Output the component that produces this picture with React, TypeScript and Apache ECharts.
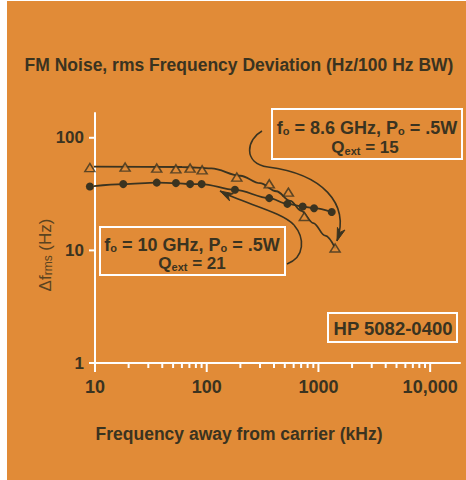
import React, { useEffect, useRef } from 'react';
import * as echarts from 'echarts';

// ---- data ----
const xMajorTicks = [10, 100, 1000, 10000];
const xMinorTicks = [20, 30, 40, 50, 60, 70, 80, 90, 200, 300, 400, 500, 600, 700, 800, 900, 2000, 3000, 4000, 5000, 6000, 7000, 8000, 9000];
const yMajorTicks = [1, 10, 100];

// f0 = 8.6 GHz (triangles)
const triFreq = [9, 18.6, 35.7, 53, 71, 91, 186, 363, 538, 748, 1410];
const triVal = [54.4, 54.9, 53.8, 53.0, 53.8, 51.9, 44.8, 39.0, 32.9, 20.0, 10.5];
// fitted curve through the triangles (as drawn)
const triFitFreq = [9, 60, 110, 200, 300, 420, 560, 700, 900, 1150, 1420];
const triFitVal = [55.5, 55, 53.5, 46, 39.5, 33.5, 27.5, 22.5, 17.5, 13.5, 10.4];

// f0 = 10 GHz (dots)
const dotFreq = [9, 17.9, 35.7, 53, 71, 90, 179, 363, 527, 723, 914, 1315];
const dotVal = [36.9, 38.8, 40.0, 39.6, 38.8, 38.8, 34.5, 29.1, 25.9, 24.5, 23.7, 21.9];

const X_MIN = 10;
const X_MAX = 18500;
const Y_MIN = 1;
const Y_MAX = 166;

const BG = '#E18B37';
const INK = '#3A3320';
const WHITE = '#FFFFFF';
const FONT = '"Liberation Sans", Arial, sans-serif';

function powLabel(v: number): string {
  const l = Math.log10(v);
  if (Math.abs(l - Math.round(l)) > 1e-3) return '';
  const n = Math.round(Math.pow(10, Math.round(l)));
  return n === 10000 ? '10,000' : String(n);
}

function arrowHead(tx: number, ty: number, fx: number, fy: number, len = 13, hw = 4) {
  const dx = tx - fx, dy = ty - fy;
  const d = Math.hypot(dx, dy);
  const ux = dx / d, uy = dy / d;
  const bx = tx - ux * len, by = ty - uy * len;
  const nx = -uy, ny = ux;
  return {
    type: 'polygon',
    shape: { points: [[tx, ty], [bx + nx * hw, by + ny * hw], [tx - ux * len * 0.7, ty - uy * len * 0.7], [bx - nx * hw, by - ny * hw]] },
    style: { fill: INK, stroke: INK, lineWidth: 1 },
    z: 50,
  };
}

function rt(text: string, x: number, y: number, size: number, subSize: number) {
  return {
    type: 'text',
    x, y,
    z: 60,
    style: {
      text,
      align: 'center', verticalAlign: 'middle',
      textAlign: 'center', textVerticalAlign: 'middle',
      fill: INK,
      fontFamily: FONT,
      fontSize: size,
      fontWeight: 'bold',
      rich: {
        m: { fontFamily: FONT, fontSize: size, fontWeight: 'bold', fill: INK, color: INK, lineHeight: size + 5, verticalAlign: 'bottom' },
        s: { fontFamily: FONT, fontSize: subSize, fontWeight: 'bold', fill: INK, color: INK, lineHeight: subSize, verticalAlign: 'bottom' },
      },
    },
  };
}

export default function App() {
  const ref = useRef<HTMLDivElement>(null);

  useEffect(() => {
    document.body.style.margin = '0';
    if (!ref.current) return;
    const chart = echarts.init(ref.current, null, { renderer: 'svg' });

    const tickData: number[][] = [
      ...xMinorTicks.map((v) => [v, Y_MIN, 0]),
      ...xMajorTicks.map((v) => [v, Y_MIN, 1]),
      ...yMajorTicks.map((v) => [X_MIN, v, 2]),
    ];

    const option: any = {
      animation: false,
      backgroundColor: BG,
      grid: { left: 95, right: 6, top: 113, bottom: 117, containLabel: false },
      xAxis: {
        type: 'log',
        logBase: 10,
        min: X_MIN,
        max: X_MAX,
        axisLine: { show: true, lineStyle: { color: WHITE, width: 2 } },
        axisTick: { show: false },
        minorTick: { show: false },
        splitLine: { show: false },
        axisLabel: {
          formatter: powLabel,
          margin: 15,
          color: INK,
          fontSize: 18,
          fontWeight: 'bold',
          fontFamily: FONT,
        },
      },
      yAxis: {
        type: 'log',
        logBase: 10,
        min: Y_MIN,
        max: Y_MAX,
        axisLine: { show: true, lineStyle: { color: WHITE, width: 2 } },
        axisTick: { show: false },
        minorTick: { show: false },
        splitLine: { show: false },
        axisLabel: {
          formatter: powLabel,
          margin: 11,
          color: INK,
          fontSize: 17,
          fontWeight: 'bold',
          fontFamily: FONT,
        },
      },
      series: [
        {
          type: 'custom',
          clip: false,
          silent: true,
          z: 1,
          data: tickData,
          renderItem: (params: any, api: any) => {
            const p = api.coord([api.value(0), api.value(1)]);
            const kind = api.value(2);
            let shape;
            if (kind === 0) shape = { x1: p[0], y1: p[1], x2: p[0], y2: p[1] + 5 };
            else if (kind === 1) shape = { x1: p[0], y1: p[1], x2: p[0], y2: p[1] + 9 };
            else shape = { x1: p[0] - 6, y1: p[1], x2: p[0], y2: p[1] };
            return { type: 'line', shape, style: { stroke: WHITE, lineWidth: 2 } };
          },
        },
        {
          type: 'line',
          clip: false,
          silent: true,
          showSymbol: false,
          smooth: 0.35,
          smoothMonotone: 'x',
          lineStyle: { color: INK, width: 1.8 },
          data: triFitFreq.map((f, i) => [f, triFitVal[i]]),
          z: 3,
        },
        {
          type: 'line',
          clip: false,
          silent: true,
          smooth: 0.35,
          smoothMonotone: 'x',
          symbol: 'circle',
          symbolSize: 8,
          showSymbol: true,
          itemStyle: { color: INK },
          lineStyle: { color: INK, width: 1.8 },
          data: dotFreq.map((f, i) => [f, dotVal[i]]),
          z: 4,
        },
        {
          type: 'scatter',
          clip: false,
          silent: true,
          symbol: 'triangle',
          symbolSize: [10, 8],
          itemStyle: { color: BG, borderColor: INK, borderWidth: 1.5 },
          data: triFreq.map((f, i) => [f, triVal[i]]),
          z: 5,
        },
      ],
      graphic: [
        // left/top white margin of the scanned page
        { type: 'rect', shape: { x: 0, y: 0, width: 7, height: 480 }, style: { fill: WHITE }, z: 100 },
        { type: 'rect', shape: { x: 0, y: 0, width: 466, height: 1 }, style: { fill: WHITE }, z: 100 },
        // title
        {
          type: 'text', x: 239, y: 65, z: 60,
          style: { text: 'FM Noise, rms Frequency Deviation (Hz/100 Hz BW)', fill: INK, fontFamily: FONT, fontSize: 17.5, fontWeight: 'bold', align: 'center', verticalAlign: 'middle', textAlign: 'center', textVerticalAlign: 'middle' },
        },
        // x-axis title
        {
          type: 'text', x: 239, y: 434, z: 60,
          style: { text: 'Frequency away from carrier (kHz)', fill: INK, fontFamily: FONT, fontSize: 17.5, fontWeight: 'bold', align: 'center', verticalAlign: 'middle', textAlign: 'center', textVerticalAlign: 'middle' },
        },
        // y-axis title (rotated)
        {
          type: 'text', x: 43, y: 255, rotation: Math.PI / 2, z: 60,
          style: {
            text: '{m|Δf}{s|rms}{m| (Hz)}',
            align: 'center', verticalAlign: 'middle', textAlign: 'center', textVerticalAlign: 'middle',
            fill: '#5A4320', fontFamily: FONT, fontSize: 17,
            rich: {
              m: { fontFamily: FONT, fontSize: 17, fill: '#5A4320', color: '#5A4320', lineHeight: 22, verticalAlign: 'bottom' },
              s: { fontFamily: FONT, fontSize: 12, fill: '#5A4320', color: '#5A4320', lineHeight: 12, verticalAlign: 'bottom' },
            },
          },
        },
        // annotation boxes
        { type: 'rect', z: 55, shape: { x: 272, y: 109, width: 190, height: 50 }, style: { fill: 'none', stroke: WHITE, lineWidth: 2 } },
        { type: 'rect', z: 55, shape: { x: 100, y: 227, width: 185, height: 48 }, style: { fill: 'none', stroke: WHITE, lineWidth: 2 } },
        { type: 'rect', z: 55, shape: { x: 328, y: 313, width: 129, height: 29 }, style: { fill: 'none', stroke: WHITE, lineWidth: 2 } },
        rt('{m|f}{s|o}{m| = 8.6 GHz, P}{s|o}{m| = .5W}', 367, 125, 18, 11),
        rt('{m|Q}{s|ext}{m| = 15}', 365, 145, 17, 11),
        rt('{m|f}{s|o}{m| = 10 GHz, P}{s|o}{m| = .5W}', 192, 242, 18, 11),
        rt('{m|Q}{s|ext}{m| = 21}', 192, 261, 17, 11),
        {
          type: 'text', x: 393, y: 328, z: 60,
          style: { text: 'HP 5082-0400', fill: INK, fontFamily: FONT, fontSize: 18.5, fontWeight: 'bold', align: 'center', verticalAlign: 'middle', textAlign: 'center', textVerticalAlign: 'middle' },
        },
        // arrow 1 (8.6 GHz box -> triangle curve)
        { type: 'bezierCurve', z: 50, shape: { x1: 262, y1: 131, cpx1: 247, cpy1: 139, cpx2: 242, cpy2: 163, x2: 268, y2: 167 }, style: { stroke: INK, lineWidth: 1.6, fill: 'none' } },
        { type: 'bezierCurve', z: 50, shape: { x1: 268, y1: 167, cpx1: 322, cpy1: 174, cpx2: 350, cpy2: 203, x2: 337, y2: 241 }, style: { stroke: INK, lineWidth: 1.6, fill: 'none' } },
        arrowHead(337, 241, 350, 203),
        // arrow 2 (10 GHz box -> dot curve)
        { type: 'bezierCurve', z: 50, shape: { x1: 287, y1: 264, cpx1: 305, cpy1: 257, cpx2: 305, cpy2: 238, x2: 294, y2: 225 }, style: { stroke: INK, lineWidth: 1.6, fill: 'none' } },
        { type: 'bezierCurve', z: 50, shape: { x1: 294, y1: 225, cpx1: 283, cpy1: 212, cpx2: 242, cpy2: 203, x2: 220, y2: 191 }, style: { stroke: INK, lineWidth: 1.6, fill: 'none' } },
        arrowHead(220, 191, 242, 203),
      ],
    };

    chart.setOption(option);
    return () => chart.dispose();
  }, []);

  return <div ref={ref} style={{ width: 466, height: 480 }} />;
}
